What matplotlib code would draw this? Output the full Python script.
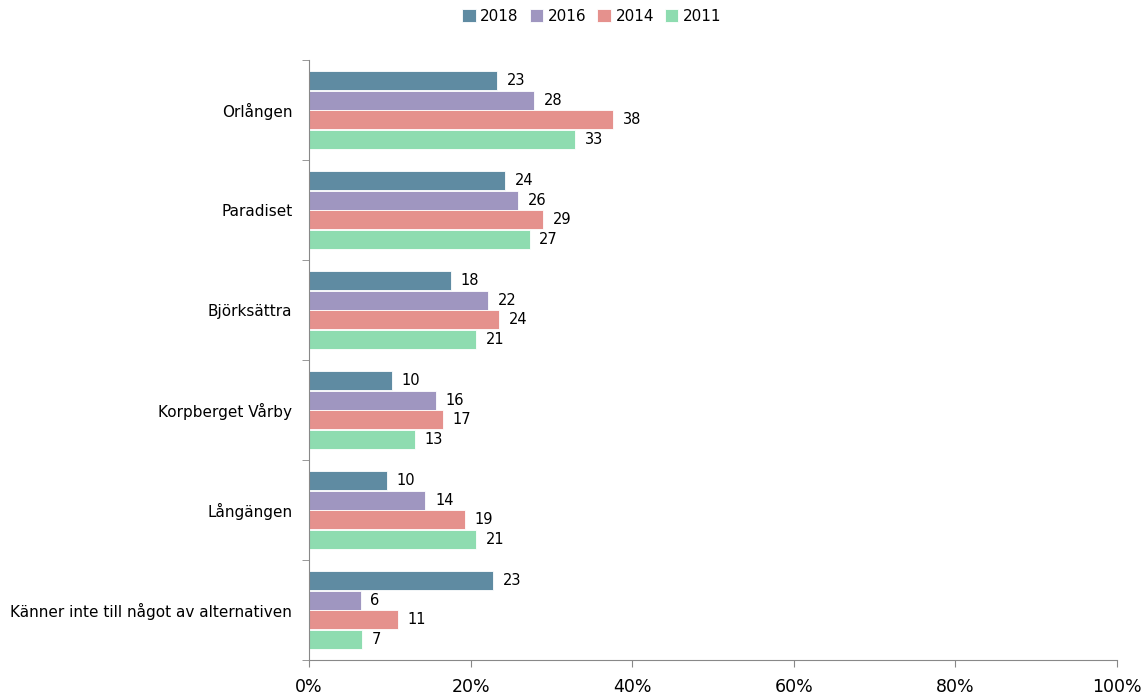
import numpy as np
import matplotlib.pyplot as plt

# Data (percent)
categories = ["Orlången", "Paradiset", "Björksättra", "Korpberget Vårby",
              "Långängen", "Känner inte till något av alternativen"]
years = ["2018", "2016", "2014", "2011"]
v2018 = [23.3, 24.3, 17.6, 10.3, 9.6, 22.8]
v2016 = [27.9, 25.9, 22.2, 15.7, 14.4, 6.4]
v2014 = [37.6, 29.0, 23.5, 16.6, 19.3, 11.0]
v2011 = [32.9, 27.3, 20.7, 13.1, 20.7, 6.6]
colors = ["#5F8BA2", "#9F96C0", "#E5918D", "#8EDCB0"]

series = [v2018, v2016, v2014, v2011]

fig = plt.figure(figsize=(11.44, 6.95), dpi=100)
ax = fig.add_axes([309 / 1144, 35 / 695, 808 / 1144, 600 / 695])

n = len(categories)
y = np.arange(n)
bar_h = 0.19
step = 0.195
for i, (vals, yr, col) in enumerate(zip(series, years, colors)):
    pos = y - 1.5 * step + i * step
    ax.barh(pos, vals, height=bar_h, color=col, edgecolor="white",
            linewidth=0.6, label=yr)
    for p, v in zip(pos, vals):
        ax.text(v + 1.2, p, f"{v:.0f}", va="center", ha="left", fontsize=10.5)

ax.set_xlim(0, 100)
ax.set_ylim(n - 0.5, -0.5)
ax.set_xticks(np.arange(0, 101, 20))
ax.set_xticklabels([f"{t}%" for t in range(0, 101, 20)], fontsize=12.5)
ax.set_yticks(y)
ax.set_yticklabels(categories, fontsize=11)
ax.tick_params(axis="y", length=0, pad=12)
ax.set_yticks(np.arange(-0.5, n, 1), minor=True)
ax.tick_params(axis="y", which="minor", length=5, color="#888888", direction="out")
ax.tick_params(axis="x", length=5, color="#888888", direction="out", pad=8)

for s in ["top", "right"]:
    ax.spines[s].set_visible(False)
for s in ["left", "bottom"]:
    ax.spines[s].set_color("#888888")

ax.legend(loc="upper center", bbox_to_anchor=(0.35, 1.108), ncol=4, frameon=False,
          fontsize=11, handlelength=0.9, handleheight=0.9, handletextpad=0.3,
          columnspacing=0.7)

fig.savefig("out.png", dpi=100)
